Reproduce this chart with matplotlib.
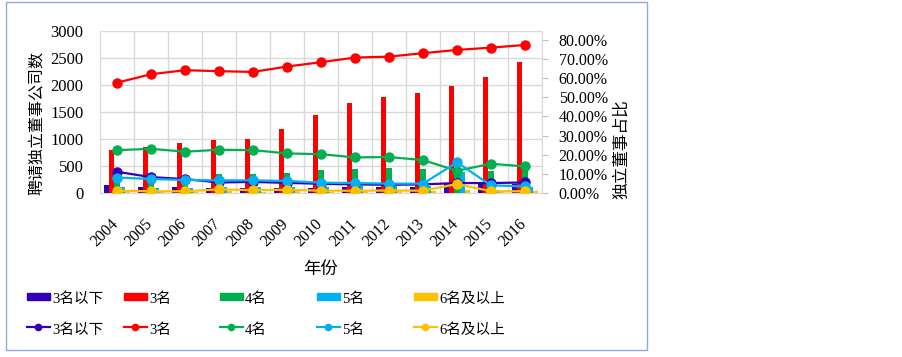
import matplotlib
matplotlib.use("Agg")
import matplotlib.pyplot as plt
import matplotlib.transforms as mtransforms
import numpy as np
from matplotlib.patches import Rectangle
from matplotlib.lines import Line2D
from matplotlib.ticker import FuncFormatter, MultipleLocator

plt.rcParams['font.family'] = ['Liberation Serif', 'Noto Sans CJK SC', 'DejaVu Sans']

years = ['2004', '2005', '2006', '2007', '2008', '2009', '2010',
         '2011', '2012', '2013', '2014', '2015', '2016']
series_names = ['3名以下', '3名', '4名', '5名', '6名及以上']
colors = ['#3300B8', '#FF0000', '#00B050', '#00B0F0', '#FFC000']

# company counts (left axis, bars)
cnt_below3 = [150, 110, 105, 85, 92, 95, 101, 106, 108, 114, 190, 180, 175]
cnt_3 = [800, 852, 931, 981, 1006, 1179, 1444, 1667, 1784, 1858, 1987, 2154, 2432]
cnt_4 = [305, 317, 313, 346, 350, 365, 429, 438, 470, 437, 390, 413, 470]
cnt_5 = [112, 100, 99, 102, 105, 112, 114, 122, 123, 125, 395, 60, 107]
cnt_6plus = [17, 12, 13, 29, 24, 30, 25, 28, 33, 31, 60, 26, 28]

# share (right axis, lines)
pct_below3 = [0.111, 0.083, 0.073, 0.055, 0.058, 0.053, 0.048, 0.045, 0.043, 0.045, 0.052, 0.052, 0.055]
pct_3 = [0.577, 0.621, 0.642, 0.637, 0.633, 0.661, 0.684, 0.708, 0.713, 0.731, 0.748, 0.760, 0.774]
pct_4 = [0.224, 0.231, 0.216, 0.226, 0.224, 0.207, 0.203, 0.186, 0.188, 0.172, 0.116, 0.153, 0.139]
pct_5 = [0.081, 0.073, 0.068, 0.066, 0.066, 0.063, 0.054, 0.052, 0.049, 0.049, 0.160, 0.040, 0.034]
pct_6plus = [0.012, 0.009, 0.009, 0.019, 0.015, 0.017, 0.012, 0.012, 0.013, 0.012, 0.047, 0.009, 0.009]

counts = [cnt_below3, cnt_3, cnt_4, cnt_5, cnt_6plus]
pcts = [pct_below3, pct_3, pct_4, pct_5, pct_6plus]

W, H = 903, 357
fig = plt.figure(figsize=(W / 100, H / 100), dpi=100)

def fx(x):
    return x / W

def fy(y):
    return 1 - y / H

L, R, T, B = 100, 542, 31, 193
ax = fig.add_axes([fx(L), fy(B), fx(R) - fx(L), fy(T) - fy(B)])
ax2 = ax.twinx()

x = np.arange(len(years))
bw = 0.155
for i, (vals, c) in enumerate(zip(counts, colors)):
    ax.bar(x + (i - 2) * bw, vals, width=bw, color=c, zorder=3)

ax.set_xlim(-0.5, len(years) - 0.5)
ax.set_ylim(0, 3000)
ax.yaxis.set_major_locator(MultipleLocator(500))
ax.set_xticks(x)
ax.set_xticks(np.arange(-0.5, len(years), 1), minor=True)
ax.tick_params(axis='x', which='both', length=0, pad=8)
ax.tick_params(axis='y', length=0, pad=12, labelsize=12)
ax.set_xticklabels(years, rotation=45, ha='right', va='top', fontsize=11.5)
shift = mtransforms.ScaledTranslation(5 / 100, -12 / 100, fig.dpi_scale_trans)
for lab in ax.get_xticklabels():
    lab.set_transform(lab.get_transform() + shift)
ax.grid(axis='y', color='#d9d9d9', linewidth=1, zorder=0)
ax.grid(axis='x', which='minor', color='#d9d9d9', linewidth=1, zorder=0)
ax.set_axisbelow(True)
for s in ['top', 'right']:
    ax.spines[s].set_visible(False)
for s in ['left', 'bottom']:
    ax.spines[s].set_color('#d9d9d9')

for vals, c in zip(pcts, colors):
    ax2.plot(x, vals, color=c, linewidth=1.6, marker='o', markersize=6.5, zorder=4)
ax2.set_ylim(0, 0.847)
ax2.yaxis.set_major_locator(MultipleLocator(0.1))
ax2.yaxis.set_major_formatter(FuncFormatter(lambda v, p: f'{v*100:.2f}%'))
ax2.tick_params(axis='y', length=4, color='#bfbfbf', pad=8, labelsize=11.5)
for s in ['top', 'left', 'bottom']:
    ax2.spines[s].set_visible(False)
ax2.spines['right'].set_color('#d9d9d9')
ax2.patch.set_visible(False)

fig.text(fx(37), fy(123), '聘请独立董事公司数', rotation=90, ha='center', va='center', fontsize=11.5)
fig.text(fx(622), fy(149), '独立董事占比', rotation=90, ha='center', va='center', fontsize=12)
fig.text(fx(321), fy(270), '年份', ha='center', va='center', fontsize=12.5)

# legend
cols = [27, 124, 220, 317, 414]
for name, c, cx in zip(series_names, colors, cols):
    fig.add_artist(Rectangle((fx(cx), fy(299.5)), fx(23), 7 / H, color=c, transform=fig.transFigure))
    fig.text(fx(cx + 25), fy(299), name, ha='left', va='center', fontsize=10.5)
    fig.add_artist(Line2D([fx(cx), fx(cx + 23)], [fy(327), fy(327)], color=c, linewidth=1.6,
                          transform=fig.transFigure))
    fig.add_artist(Line2D([fx(cx + 11.5)], [fy(327)], color=c, marker='o', markersize=4.5,
                          transform=fig.transFigure))
    fig.text(fx(cx + 25), fy(330), name, ha='left', va='center', fontsize=10.5)

# chart border
fig.add_artist(Rectangle((fx(6), fy(350)), fx(641), (350 - 2) / H, fill=False,
                         edgecolor='#8faadc', linewidth=1, transform=fig.transFigure))

fig.savefig('out.png', dpi=100)
